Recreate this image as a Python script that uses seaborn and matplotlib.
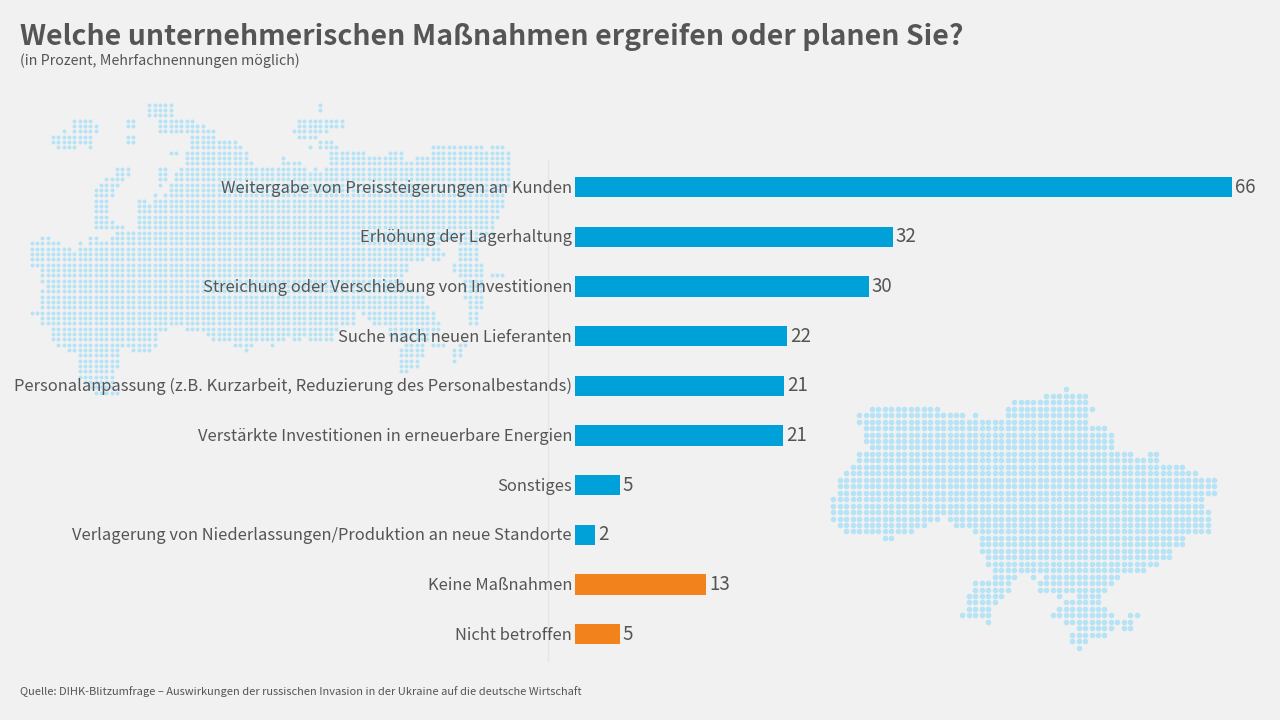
import numpy as np
import pandas as pd
import matplotlib.pyplot as plt
from matplotlib.transforms import ScaledTranslation
import seaborn as sns

categories = [
    "Weitergabe von Preissteigerungen an Kunden",
    "Erhöhung der Lagerhaltung",
    "Streichung oder Verschiebung von Investitionen",
    "Suche nach neuen Lieferanten",
    "Personalanpassung (z.B. Kurzarbeit, Reduzierung des Personalbestands)",
    "Verstärkte Investitionen in erneuerbare Energien",
    "Sonstiges",
    "Verlagerung von Niederlassungen/Produktion an neue Standorte",
    "Keine Maßnahmen",
    "Nicht betroffen",
]
# bar lengths as measured, the printed labels are rounded
values = [66, 31.9, 29.5, 21.3, 21, 20.9, 4.5, 2, 13.2, 4.5]
value_labels = ["66", "32", "30", "22", "21", "21", "5", "2", "13", "5"]
bar_colors = ["#00a0d8"] * 8 + ["#f2831c"] * 2

BG = "#f0f1f0"
TEXT = "#555555"
DOT = "#b6e3f6"

# decorative dot maps: one row per line, spans are (first, last) column
ukraine_rows = [
    [(36, 36)], [(33, 39)], [(28, 39)], [(6, 16), (27, 40)],
    [(4, 20), (22, 22), (27, 39)], [(4, 39)], [(5, 42)], [(5, 43)], [(5, 43)], [(6, 43)],
    [(4, 46), (49, 50)], [(4, 50)], [(3, 54)], [(2, 56)], [(1, 59)], [(1, 59)], [(1, 59)],
    [(0, 57)], [(0, 57)], [(0, 58)], [(0, 16), (18, 58)], [(1, 14), (19, 58)],
    [(2, 12), (22, 58)], [(8, 9), (23, 54)], [(23, 54)], [(23, 52)], [(24, 52)], [(24, 50)],
    [(25, 48)], [(25, 28), (31, 31), (33, 44)], [(22, 27), (32, 43)], [(22, 27), (32, 42)],
    [(21, 26), (35, 35), (38, 41)], [(21, 25), (36, 41)], [(21, 24), (35, 42)],
    [(20, 24), (34, 43), (46, 47)], [(24, 24), (36, 46)], [(38, 43), (45, 46)],
    [(37, 42)], [(37, 39)], [(38, 38)],
]
# spans in x position of the zoomed crop, snapped to the grid below
russia_rows = [
    [(440, 505), (947, 947)], [(440, 505), (947, 947)], [(440, 505)],
    [(220, 270), (380, 395), (472, 570), (885, 1010)],
    [(220, 285), (380, 395), (472, 600), (885, 1010)],
    [(190, 190), (220, 285), (472, 635), (870, 965)],
    [(155, 270), (380, 395), (565, 635), (885, 935)],
    [(155, 270), (380, 395), (565, 695), (945, 980)],
    [(170, 225), (268, 268), (565, 715), (915, 915), (945, 995), (1275, 1420), (1450, 1485)],
    [(505, 520), (550, 730), (975, 1075), (1150, 1185), (1275, 1500)],
    [(550, 730), (835, 835), (975, 1185), (1230, 1500)],
    [(550, 745), (835, 885), (975, 1500)],
    [(345, 380), (470, 490), (535, 905), (930, 930), (960, 1500)],
    [(345, 380), (470, 490), (520, 1500)],
    [(315, 365), (470, 490), (520, 1500)],
    [(300, 350), (470, 470), (505, 1500)],
    [(285, 335), (505, 1490)],
    [(285, 335), (455, 455), (490, 1490)],
    [(285, 320), (410, 430), (455, 1490)],
    [(285, 320), (410, 1490)], [(285, 320), (410, 1475)], [(285, 320), (410, 1475)],
    [(285, 335), (410, 1460)], [(285, 365), (410, 1460)], [(340, 1460)],
    [(125, 145), (270, 285), (330, 1430)],
    [(95, 175), (235, 235), (265, 1300), (1355, 1410)],
    [(95, 205), (235, 1300), (1355, 1410)],
    [(95, 1315), (1355, 1410)],
    [(95, 1250), (1280, 1300), (1355, 1410)],
    [(95, 1205), (1340, 1425)], [(125, 1205), (1340, 1425)],
    [(125, 1190), (1355, 1425), (1450, 1485)], [(125, 1190), (1370, 1425)],
    [(140, 1190), (1370, 1425)], [(125, 1240), (1370, 1425)], [(125, 1250), (1370, 1425)],
    [(125, 1250), (1385, 1425)], [(125, 1265), (1385, 1425)],
    [(95, 1040), (1070, 1280), (1385, 1410)], [(125, 1045), (1085, 1280), (1385, 1410)],
    [(125, 1045), (1100, 1300), (1385, 1410)], [(155, 495), (550, 1000), (1150, 1300)],
    [(155, 465), (610, 830), (850, 985), (1150, 1280)],
    [(155, 465), (625, 830), (865, 885), (910, 985), (1165, 1265)],
    [(170, 465), (690, 745), (805, 805), (1195, 1250), (1275, 1310), (1355, 1375)],
    [(200, 350), (390, 445), (725, 725), (1180, 1250), (1340, 1360)],
    [(230, 350), (1180, 1250), (1340, 1360)], [(235, 350), (1180, 1235), (1340, 1340)],
    [(235, 350), (1180, 1235)], [(235, 335), (1180, 1200)], [(235, 335)],
    [(250, 335)], [(265, 335)], [(280, 350)],
]


def grid_points(rows, x0, y0, pitch_x, pitch_y):
    xs, ys = [], []
    for r, spans in enumerate(rows):
        for first, last in spans:
            for c in range(first, last + 1):
                xs.append(x0 + c * pitch_x)
                ys.append(y0 + r * pitch_y)
    return xs, ys


sns.set_theme(style="white")
plt.rcParams["font.family"] = ["Noto Sans CJK SC", "DejaVu Sans"]

fig = plt.figure(figsize=(12.8, 7.2), dpi=100, facecolor=BG)

# background layer in pixel coordinates for the two dot maps
bg_ax = fig.add_axes([0, 0, 1, 1], zorder=0)
bg_ax.set_xlim(0, 1280)
bg_ax.set_ylim(720, 0)
bg_ax.axis("off")

russia_cols = [[(round((a - 95) / 15.8), round((b - 95) / 15.8)) for a, b in row] for row in russia_rows]
rx, ry = grid_points(russia_cols, 31.5, 89 + 47 / 3, 5.35, 16 / 3)
ux, uy = grid_points(ukraine_rows, 833.3, 389.3, 6.457, 6.46)
bg_ax.scatter(rx, ry, s=8, color=DOT, linewidths=0)
bg_ax.scatter(ux, uy, s=16, color=DOT, linewidths=0)

# main bar chart, left spine is the thin line at x=548
ax = fig.add_axes([548 / 1280, (720 - 660) / 720, 732 / 1280, 500 / 720], zorder=1)
ax.patch.set_alpha(0)
df = pd.DataFrame({"category": categories, "value": values})
sns.barplot(data=df, x="value", y="category", hue="category", palette=bar_colors,
            dodge=False, legend=False, width=0.41, saturation=1, linewidth=0, ax=ax)

for container, label in zip(ax.containers, value_labels):
    ax.bar_label(container, labels=[label], padding=2.2, fontsize=13.5, color=TEXT)

px_per_unit = 9.955
ax.set_xlim(-27 / px_per_unit, 705 / px_per_unit)
ax.set_ylim(9.523, -0.544)
ax.set_xlabel("")
ax.set_ylabel("")
ax.set_xticks([])
ax.tick_params(axis="y", length=0, pad=-17.2, labelsize=11.9, labelcolor=TEXT)
# nudge the category labels up by one pixel
for lbl in ax.get_yticklabels():
    lbl.set_transform(lbl.get_transform() + ScaledTranslation(0, 1 / 100, fig.dpi_scale_trans))
sns.despine(ax=ax, top=True, right=True, bottom=True)
ax.spines["left"].set_color("#e4e5e4")
ax.spines["left"].set_linewidth(1)
# keep the line behind the labels
ax.set_axisbelow(False)
ax.spines["left"].set_zorder(1)

fig.text(20 / 1280, 1 - 37 / 720, "Welche unternehmerischen Maßnahmen ergreifen oder planen Sie?",
         fontsize=20.5, fontweight="bold", color=TEXT, va="center", ha="left")
fig.text(20 / 1280, 1 - 61 / 720, "(in Prozent, Mehrfachnennungen möglich)",
         fontsize=10.27, color=TEXT, va="center", ha="left")
fig.text(20 / 1280, 1 - 692 / 720,
         "Quelle: DIHK-Blitzumfrage – Auswirkungen der russischen Invasion in der Ukraine auf die deutsche Wirtschaft",
         fontsize=7.97, color=TEXT, va="center", ha="left")

fig.savefig("out.png", dpi=100, facecolor=BG)
